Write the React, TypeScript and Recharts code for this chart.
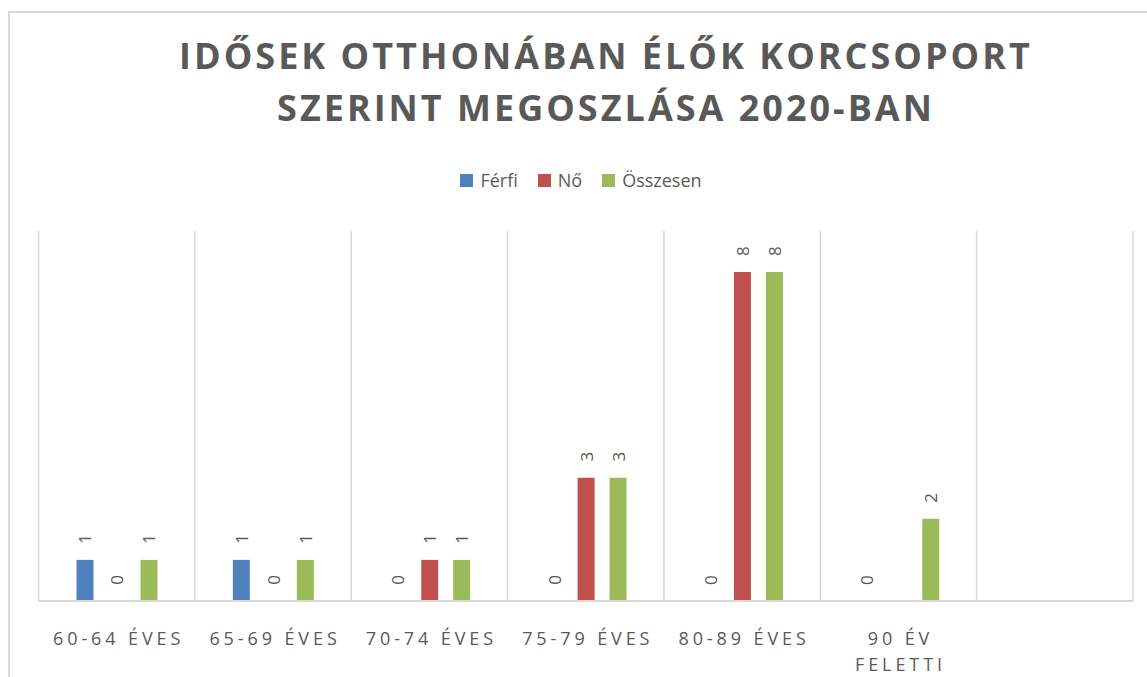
import { BarChart, Bar, XAxis, YAxis, CartesianGrid, LabelList } from 'recharts';

const CATEGORIES = ['60-64 ÉVES', '65-69 ÉVES', '70-74 ÉVES', '75-79 ÉVES', '80-89 ÉVES', '90 ÉV FELETTI', ''];
const FERFI = [1, 1, 0, 0, 0, 0, null];
const NO = [0, 0, 1, 3, 8, null, null];
const OSSZESEN = [1, 1, 1, 3, 8, 2, null];

const SERIES = [
  { key: 'ferfi', name: 'Férfi', color: '#4F81BD', values: FERFI },
  { key: 'no', name: 'Nő', color: '#C0504D', values: NO },
  { key: 'osszesen', name: 'Összesen', color: '#9BBB59', values: OSSZESEN },
];

const TEXT = '#595959';
const GRID = '#D9D9D9';
const FONT = '"Open Sans", sans-serif';

const data = CATEGORIES.map((name, i) => {
  const row: Record<string, string | number | null> = { name };
  SERIES.forEach((s) => {
    row[s.key] = s.values[i];
  });
  return row;
});

function wrap(label: string, max: number) {
  const words = label.split(' ');
  const lines: string[] = [];
  let cur = '';
  words.forEach((w) => {
    const next = cur ? cur + ' ' + w : w;
    if (next.length > max && cur) {
      lines.push(cur);
      cur = w;
    } else {
      cur = next;
    }
  });
  if (cur) lines.push(cur);
  return lines;
}

function CategoryTick(props: any) {
  const { x, y, payload } = props;
  const lines = wrap(String(payload.value ?? ''), 11);
  return (
    <text
      x={x}
      y={y}
      textAnchor="middle"
      fill={TEXT}
      fontFamily={FONT}
      fontSize={18}
      style={{ letterSpacing: '3.9px' }}
    >
      {lines.map((l, i) => (
        <tspan key={i} x={x + 2} y={y + 36 + i * 26}>
          {l}
        </tspan>
      ))}
    </text>
  );
}

function ValueLabel(props: any) {
  const { x, y, width, value } = props;
  if (value === null || value === undefined) return null;
  const cx = Number(x) + Number(width) / 2;
  const cy = Number(y) - 21;
  return (
    <text
      x={cx}
      y={cy}
      transform={`rotate(-90 ${cx} ${cy})`}
      textAnchor="middle"
      dominantBaseline="central"
      fill={TEXT}
      fontFamily={FONT}
      fontSize={17}
    >
      {value}
    </text>
  );
}

export default function App() {
  return (
    <div
      style={{
        position: 'absolute',
        left: 0,
        top: 0,
        width: 1147,
        height: 677,
        overflow: 'hidden',
        background: '#fff',
        fontFamily: FONT,
      }}
    >
      <div
        style={{
          position: 'absolute',
          left: 8,
          top: 11,
          width: 1200,
          height: 700,
          border: `2px solid ${GRID}`,
        }}
      />
      <div
        style={{
          position: 'absolute',
          left: 0,
          top: 30,
          width: 1212,
          textAlign: 'center',
          fontSize: 36,
          fontWeight: 700,
          lineHeight: '52px',
          letterSpacing: '3px',
          color: TEXT,
        }}
      >
        <div>IDŐSEK OTTHONÁBAN ÉLŐK KORCSOPORT</div>
        <div>SZERINT MEGOSZLÁSA 2020-BAN</div>
      </div>
      <div
        style={{
          position: 'absolute',
          left: 0,
          top: 167,
          width: 1182,
          height: 26,
          display: 'flex',
          justifyContent: 'center',
          alignItems: 'center',
          fontSize: 18,
          lineHeight: '26px',
          color: TEXT,
        }}
      >
        {SERIES.map((s) => (
          <div key={s.key} style={{ display: 'flex', alignItems: 'center', marginRight: 20 }}>
            <span style={{ width: 13, height: 13, background: s.color, marginRight: 7 }} />
            <span>{s.name}</span>
          </div>
        ))}
      </div>
      <div style={{ position: 'absolute', left: 0, top: 0 }}>
        <BarChart
          width={1147}
          height={677}
          data={data}
          margin={{ top: 231, right: 14, bottom: 16, left: 38.5 }}
          barSize={17}
          barGap={15}
        >
          <CartesianGrid
            horizontal={false}
            stroke={GRID}
            strokeWidth={1.5}
            verticalCoordinatesGenerator={({ offset }: any) =>
              CATEGORIES.map((_, i) => offset.left + (i * offset.width) / CATEGORIES.length).concat(
                offset.left + offset.width,
              )
            }
          />
          <XAxis
            dataKey="name"
            height={60}
            tickLine={false}
            axisLine={{ stroke: GRID, strokeWidth: 2 }}
            tick={<CategoryTick />}
            interval={0}
          />
          <YAxis hide domain={[0, 9]} />
          {SERIES.map((s) => (
            <Bar
              key={s.key}
              dataKey={s.key}
              name={s.name}
              fill={s.color}
              minPointSize={0.001}
              isAnimationActive={false}
            >
              <LabelList dataKey={s.key} content={<ValueLabel />} />
            </Bar>
          ))}
        </BarChart>
      </div>
    </div>
  );
}
